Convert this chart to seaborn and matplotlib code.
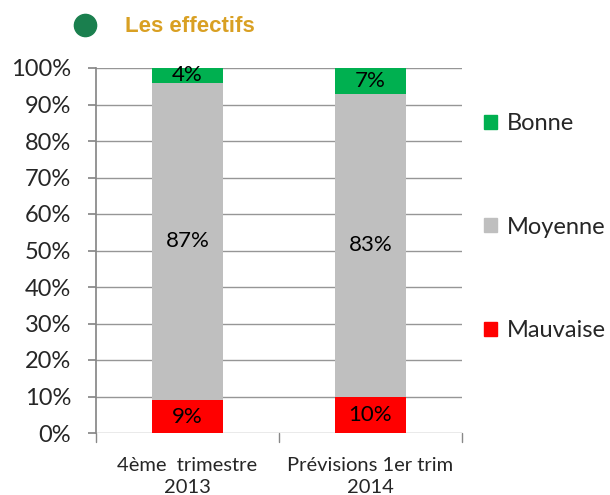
import numpy as np
import pandas as pd
import matplotlib
matplotlib.use("Agg")
import matplotlib.pyplot as plt
import seaborn as sns
from matplotlib.patches import Patch

# ── Data ──────────────────────────────────────────────────────────────────────
categories = ["4ème  trimestre\n2013", "Prévisions 1er trim\n2014"]
mauvaise = [9, 10]
moyenne = [87, 83]
bonne = [4, 7]
series_names = ["Mauvaise", "Moyenne", "Bonne"]
series_colors = ["#FF0000", "#BFBFBF", "#00B050"]

df = pd.DataFrame({"cat": categories, "Mauvaise": mauvaise,
                   "Moyenne": moyenne, "Bonne": bonne})

sns.set_theme(style="white")
plt.rcParams['font.family'] = ['Lato', 'DejaVu Sans']

fig = plt.figure(figsize=(6.1, 4.95), dpi=100)
ax = fig.add_axes([96 / 610, 1 - 433 / 495, 366 / 610, 365 / 495])

# stacked bars via seaborn, drawing the cumulative totals from top down
cum = df[series_names].cumsum(axis=1)
for name, color in zip(reversed(series_names), reversed(series_colors)):
    sns.barplot(x="cat", y=cum[name], data=df.assign(**{name: cum[name]}),
                color=color, width=0.39, ax=ax, saturation=1,
                edgecolor="none", zorder=3)

# value labels in the middle of each segment
for i in range(len(categories)):
    base = 0
    for name in series_names:
        v = df[name].iloc[i]
        ax.text(i, base + v / 2, f"{v}%", ha="center", va="center",
                fontsize=16, color="black", zorder=4)
        base += v

ax.set_ylim(0, 100)
ax.set_xlim(-0.5, 1.5)
ax.set_yticks(np.arange(0, 101, 10))
ax.set_yticklabels([f"{t}%" for t in range(0, 101, 10)], fontsize=17)
ax.set_xlabel("")
ax.set_ylabel("")
ax.tick_params(axis="x", labelsize=14.5, length=0, pad=17)
ax.tick_params(axis="y", length=6, color="#888888", pad=12, left=True)
for lbl in ax.get_xticklabels():
    lbl.set_linespacing(1.35)
ax.grid(axis="y", color="#969696", linewidth=1, zorder=0)
ax.set_axisbelow(True)
for s in ["top", "right", "bottom"]:
    ax.spines[s].set_visible(False)
ax.spines["left"].set_color("#888888")
ax.spines["left"].set_zorder(5)

# category separator ticks on the bottom axis
for xp in [-0.5, 0.5, 1.5]:
    ax.plot([xp, xp], [0, -2.5], color="#888888", lw=1, clip_on=False)

# legend on the right
handles = [Patch(color=c, label=n) for n, c in zip(series_names, series_colors)]
leg = fig.legend(handles=handles[::-1], loc="upper left",
                 bbox_to_anchor=(484 / 610, 1 - 113 / 495), frameon=False,
                 fontsize=17, handlelength=0.55, handleheight=0.55,
                 handletextpad=0.4, labelspacing=3.5,
                 borderpad=0, borderaxespad=0)

# title with green bullet
fig.add_artist(plt.Line2D([85 / 610], [1 - 25 / 495], marker="o",
                          markersize=16, color="#1A7F4E",
                          transform=fig.transFigure))
fig.text(125 / 610, 1 - 26 / 495, "Les effectifs", fontsize=16,
         fontweight="bold", color="#D9A023", va="center",
         family=["Liberation Sans", "DejaVu Sans"])

fig.savefig("out.png", dpi=100)
